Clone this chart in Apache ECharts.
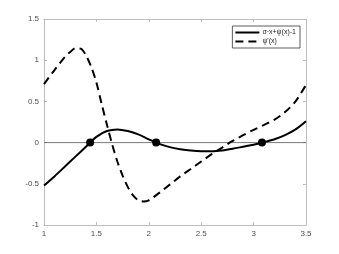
<!DOCTYPE html>
<html><head><meta charset="utf-8">
<script src="https://cdn.jsdelivr.net/npm/echarts@6/dist/echarts.min.js"></script>
<style>html,body{margin:0;padding:0;background:#fff}#c{width:339px;height:254px}</style>
</head><body><div id="c"></div>
<script>
const solidName = "σ·x+ψ(x)-1";
const dashName = "ψ'(x)";
const solidX = [1.0, 1.1, 1.2, 1.3, 1.4, 1.5, 1.6, 1.7, 1.8, 1.9, 2.0, 2.1, 2.2, 2.3, 2.4, 2.5, 2.6, 2.7, 2.8, 2.9, 3.0, 3.1, 3.2, 3.3, 3.4, 3.5];
const solidY = [-0.52, -0.41, -0.29, -0.17, -0.05, 0.07, 0.14, 0.16, 0.14, 0.10, 0.04, -0.015, -0.055, -0.08, -0.097, -0.105, -0.105, -0.095, -0.075, -0.05, -0.025, 0.005, 0.04, 0.09, 0.16, 0.26];
const dashX = [1.0, 1.1, 1.2, 1.25, 1.3, 1.35, 1.4, 1.45, 1.5, 1.55, 1.6, 1.65, 1.7, 1.75, 1.8, 1.85, 1.9, 1.95, 2.0, 2.1, 2.2, 2.3, 2.4, 2.5, 2.6, 2.7, 2.8, 2.9, 3.0, 3.1, 3.2, 3.3, 3.4, 3.5];
const dashY = [0.71, 0.88, 1.04, 1.10, 1.145, 1.14, 1.06, 0.92, 0.73, 0.47, 0.22, -0.02, -0.23, -0.40, -0.54, -0.64, -0.70, -0.715, -0.70, -0.61, -0.51, -0.41, -0.32, -0.23, -0.14, -0.06, 0.02, 0.09, 0.155, 0.215, 0.28, 0.37, 0.50, 0.70];
const rootsX = [1.44, 2.07, 3.08];
const rootsY = [0, 0, 0];

const pair = (xs, ys) => xs.map((x, i) => [x, ys[i]]);
const axisGray = '#bdbdbd';
const labelGray = '#4d4d4d';
const fmt = v => String(v);
const ff = 'Liberation Sans, Arial, sans-serif';
const chart = echarts.init(document.getElementById('c'), null, {renderer: 'canvas'});
chart.setOption({
  animation: false,
  backgroundColor: '#fff',
  grid: {left: 44, right: 33, top: 19, bottom: 29, show: false},
  legend: {
    right: 39, top: 26, orient: 'vertical',
    data: [solidName, dashName],
    itemWidth: 24, itemHeight: 8, itemGap: 2,
    padding: [3, 4, 3, 2],
    itemStyle: {opacity: 0},
    backgroundColor: '#fff', borderColor: '#333', borderWidth: 0.8, borderRadius: 0,
    textStyle: {fontSize: 7, color: '#222', fontFamily: ff, padding: [0, 0, 0, -2]}
  },
  xAxis: [
    {type: 'value', min: 1, max: 3.5, interval: 0.5, position: 'bottom',
     axisLine: {show: true, onZero: false, lineStyle: {color: axisGray, width: 1}},
     axisTick: {show: true, inside: true, length: 3, lineStyle: {color: axisGray}},
     axisLabel: {color: labelGray, fontSize: 8, margin: 5, fontFamily: ff, formatter: fmt},
     splitLine: {show: false}},
    {type: 'value', min: 1, max: 3.5, interval: 0.5, position: 'top',
     axisLine: {show: true, onZero: false, lineStyle: {color: axisGray, width: 1}},
     axisTick: {show: true, inside: true, length: 3, lineStyle: {color: axisGray}},
     axisLabel: {show: false}, splitLine: {show: false}}
  ],
  yAxis: [
    {type: 'value', min: -1, max: 1.5, interval: 0.5, position: 'left',
     axisLine: {show: true, onZero: false, lineStyle: {color: axisGray, width: 1}},
     axisTick: {show: true, inside: true, length: 3, lineStyle: {color: axisGray}},
     axisLabel: {color: labelGray, fontSize: 8, margin: 5, fontFamily: ff, formatter: fmt},
     splitLine: {show: false}},
    {type: 'value', min: -1, max: 1.5, interval: 0.5, position: 'right',
     axisLine: {show: true, onZero: false, lineStyle: {color: axisGray, width: 1}},
     axisTick: {show: true, inside: true, length: 3, lineStyle: {color: axisGray}},
     axisLabel: {show: false}, splitLine: {show: false}}
  ],
  series: [
    {name: 'zero', type: 'line', data: [[1, 0], [3.5, 0]], symbol: 'none', silent: true,
     lineStyle: {color: '#555', width: 0.8}, z: 1},
    {name: solidName, type: 'line', data: pair(solidX, solidY), smooth: 0.3, symbol: 'none',
     lineStyle: {color: '#000', width: 2}, itemStyle: {color: '#000'}, z: 3},
    {name: dashName, type: 'line', data: pair(dashX, dashY), smooth: 0.3, symbol: 'none',
     lineStyle: {color: '#000', width: 2, type: [8, 5]}, itemStyle: {color: '#000'}, z: 3},
    {name: 'roots', type: 'scatter', data: pair(rootsX, rootsY), symbol: 'circle', symbolSize: 8,
     itemStyle: {color: '#000', opacity: 1}, z: 4}
  ]
});
</script></body></html>
